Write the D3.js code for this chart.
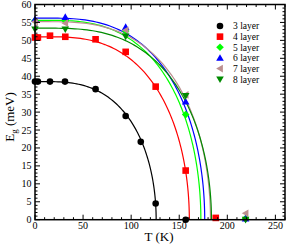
<!DOCTYPE html>
<html><head><meta charset="utf-8">
<script src="https://cdn.jsdelivr.net/npm/d3@7"></script>
<style>body{margin:0;background:#fff}svg{display:block}text{font-family:"Liberation Serif","Times New Roman",serif}</style>
</head><body><svg id="c" width="287" height="246"></svg>
<script>
// ---- data ----
const seriesNames = ["3 layer","4 layer","5 layer","6 layer","7 layer","8 layer"];
const seriesColors = ["#000000","#ff0000","#00ff00","#0000ff","#bc8f8f","#008b00"];
const seriesSymbols = ["circle","square","diamond","triangleUp","triangleLeft","triangleDown"];
const t3 = [0, 3, 15.6, 31.2, 63, 94.3, 110, 125.5, 156.7];
const e3 = [38.5, 38.5, 38.5, 38.5, 36.4, 28.9, 21.7, 4.5, 0];
const t4 = [0, 3, 15.6, 31.5, 63, 94.3, 125.5, 156.7, 188];
const e4 = [50.8, 50.8, 51.3, 51.0, 50.3, 46.8, 37.1, 13.7, 0.5];
const t5 = [0, 31.5, 94.3, 156.7, 219];
const e5 = [55.5, 55.4, 52.6, 29.3, 0.3];
const t6 = [0, 31.5, 94.3, 156.7, 219];
const e6 = [55.9, 56.5, 53.7, 32.9, 0.3];
const t7 = [0, 31.5, 94.3, 156.7, 219];
const e7 = [55.2, 54.8, 52.8, 34.8, 1.8];
const t8 = [0, 31.5, 94.3, 156.7, 219];
const e8 = [53.1, 53.1, 51.1, 34.5, 0];
// BCS-type fit parameters per series: gap at T=0 and critical temperature
const fitE0 = [38.5, 51.0, 55.6, 56.2, 55.2, 53.4];
const fitTc = [126, 160.5, 172.5, 176.5, 182.5, 183.5];
const xTicks = [0, 50, 100, 150, 200, 250];
const yTicks = [0, 5, 10, 15, 20, 25, 30, 35, 40, 45, 50, 55, 60];

const seriesT = [t3,t4,t5,t6,t7,t8];
const seriesE = [e3,e4,e5,e6,e7,e8];

// ---- layout ----
const L = 35, R = 285, T = 4.5, B = 219.7;
const svg = d3.select("#c");
const x = d3.scaleLinear().domain([0, 260]).range([L, R]);
const y = d3.scaleLinear().domain([0, 60]).range([B, T]);

// fit curves
const line = d3.line().x(d => x(d[0])).y(d => y(d[1]));
const s = d3.range(0, 1.0001, 0.01);
seriesNames.forEach((n, i) => {
  const E0 = fitE0[i], Tc = fitTc[i];
  const pts = s.map(u => {
    const tt = Tc * (1 - u * u);
    const ee = tt <= 0 ? E0 : (tt >= Tc ? 0 : E0 * Math.tanh(1.74 * Math.sqrt(Tc / tt - 1)));
    return [tt, ee];
  }).reverse();
  svg.append("path").attr("d", line(pts)).attr("fill", "none")
    .attr("stroke", seriesColors[i]).attr("stroke-width", 1.2);
});

// symbols
function sym(g, kind, color, cx, cy) {
  const r = 3.3;
  let p;
  if (kind === "circle") p = g.append("circle").attr("cx", cx).attr("cy", cy).attr("r", r);
  else if (kind === "square") p = g.append("rect").attr("x", cx - r).attr("y", cy - r).attr("width", 2 * r).attr("height", 2 * r);
  else {
    let pts;
    const a = 3.8;
    if (kind === "diamond") pts = [[0,-a],[a,0],[0,a],[-a,0]];
    if (kind === "triangleUp") pts = [[0,-a],[a,a*0.75],[-a,a*0.75]];
    if (kind === "triangleDown") pts = [[0,a],[a,-a*0.75],[-a,-a*0.75]];
    if (kind === "triangleLeft") pts = [[-a,0],[a*0.75,-a],[a*0.75,a]];
    p = g.append("polygon").attr("points", pts.map(q => (cx + q[0]) + "," + (cy + q[1])).join(" "));
  }
  p.attr("fill", color);
}
const gm = svg.append("g");
seriesNames.forEach((n, i) => {
  seriesT[i].forEach((tv, j) => sym(gm, seriesSymbols[i], seriesColors[i], x(tv), y(seriesE[i][j])));
});

// axes (ticks inward, mirrored)
const ga = svg.append("g");
const minorX = d3.range(0, 261, 10), minorY = d3.range(0, 61, 1);
function tick(x1, y1, x2, y2) {
  ga.append("line").attr("x1", x1).attr("y1", y1).attr("x2", x2).attr("y2", y2)
    .attr("stroke", "#000").attr("stroke-width", 1);
}
minorX.forEach(v => { const isMaj = v % 50 === 0; const len = isMaj ? 5 : 2.5;
  tick(x(v), B, x(v), B - len); tick(x(v), T, x(v), T + len); });
minorY.forEach(v => { const isMaj = v % 5 === 0; const len = isMaj ? 5 : 2.5;
  tick(L, y(v), L + len, y(v)); tick(R, y(v), R - len, y(v)); });
svg.append("rect").attr("x", L).attr("y", T).attr("width", R - L).attr("height", B - T)
  .attr("fill", "none").attr("stroke", "#000").attr("stroke-width", 1.5);

xTicks.forEach(v => svg.append("text").attr("x", x(v)).attr("y", 228.5)
  .attr("text-anchor", "middle").attr("font-size", 10).text(v));
yTicks.forEach(v => svg.append("text").attr("x", 31.5).attr("y", y(v) + 3.5)
  .attr("text-anchor", "end").attr("font-size", 10).text(v));

svg.append("text").attr("x", 159).attr("y", 241).attr("text-anchor", "middle")
  .attr("font-size", 13).text("T (K)");
const yl = svg.append("text").attr("transform", "translate(13.5,117) rotate(-90)")
  .attr("text-anchor", "middle").attr("font-size", 13);
yl.append("tspan").text("E");
yl.append("tspan").attr("font-size", 9).attr("dy", 3).text("g");
yl.append("tspan").attr("dy", -3).text(" (meV)");

// legend
seriesNames.forEach((n, i) => {
  const ly = 26 + i * 10.65;
  sym(svg, seriesSymbols[i], seriesColors[i], 220, ly);
  svg.append("text").attr("x", 233).attr("y", ly + 3.3).attr("font-size", 9.5).text(n);
});
</script></body></html>
